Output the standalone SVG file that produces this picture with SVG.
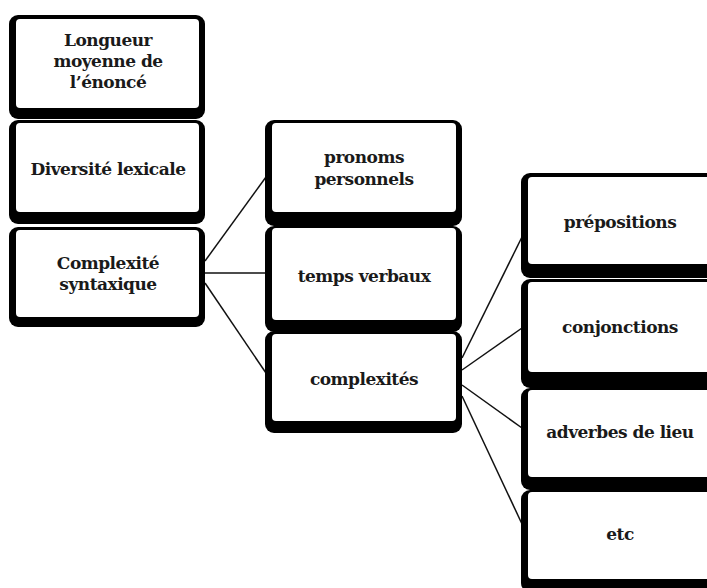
<svg xmlns="http://www.w3.org/2000/svg" width="707" height="588" viewBox="0 0 707 588">
  <style>
    .frame { fill: #000; }
    .face { fill: #fff; }
    .label { font-family: "DejaVu Serif", "Liberation Serif", serif; font-weight: bold; font-size: 17px; letter-spacing: -0.5px; fill: #1a1a1a; text-anchor: middle; }
    .link { stroke: #111; stroke-width: 1.5; fill: none; }
  </style>
  <rect width="707" height="588" fill="#fff"/>

  <!-- connectors -->
  <g id="connectors">
    <line class="link" x1="205" y1="261" x2="266" y2="177"/>
    <line class="link" x1="205" y1="273" x2="266" y2="273"/>
    <line class="link" x1="205" y1="283" x2="266" y2="373"/>
    <line class="link" x1="462" y1="358" x2="522" y2="237"/>
    <line class="link" x1="462" y1="370" x2="522" y2="328"/>
    <line class="link" x1="462" y1="385" x2="522" y2="428"/>
    <line class="link" x1="462" y1="396" x2="522" y2="524"/>
  </g>

  <!-- column 1 -->
  <g id="longueur">
    <rect class="frame" x="9" y="15" width="196" height="104" rx="9"/>
    <rect class="face" x="16" y="19" width="183" height="89" rx="4"/>
    <text class="label" x="108" y="46">Longueur</text>
    <text class="label" x="108" y="67">moyenne de</text>
    <text class="label" x="108" y="88">l’énoncé</text>
  </g>
  <g id="diversite">
    <rect class="frame" x="9" y="120" width="196" height="104" rx="9"/>
    <rect class="face" x="16" y="123" width="183" height="89" rx="4"/>
    <text class="label" x="108" y="175">Diversité lexicale</text>
  </g>
  <g id="complexite-syntaxique">
    <rect class="frame" x="9" y="227" width="196" height="100" rx="9"/>
    <rect class="face" x="16" y="230" width="183" height="87" rx="4"/>
    <text class="label" x="108" y="269">Complexité</text>
    <text class="label" x="108" y="290">syntaxique</text>
  </g>

  <!-- column 2 -->
  <g id="pronoms">
    <rect class="frame" x="265" y="120" width="197" height="106" rx="9"/>
    <rect class="face" x="272" y="123" width="184" height="89" rx="4"/>
    <text class="label" x="364" y="163">pronoms</text>
    <text class="label" x="364" y="185">personnels</text>
  </g>
  <g id="temps">
    <rect class="frame" x="265" y="226" width="197" height="106" rx="9"/>
    <rect class="face" x="272" y="228" width="184" height="92" rx="4"/>
    <text class="label" x="364" y="282">temps verbaux</text>
  </g>
  <g id="complexites">
    <rect class="frame" x="265" y="331" width="197" height="102" rx="9"/>
    <rect class="face" x="272" y="334" width="184" height="87" rx="4"/>
    <text class="label" x="364" y="385">complexités</text>
  </g>

  <!-- column 3 -->
  <g id="prepositions">
    <rect class="frame" x="521" y="173" width="200" height="105" rx="9"/>
    <rect class="face" x="528" y="177" width="200" height="87" rx="4"/>
    <text class="label" x="620" y="228">prépositions</text>
  </g>
  <g id="conjonctions">
    <rect class="frame" x="521" y="279" width="200" height="109" rx="9"/>
    <rect class="face" x="528" y="282" width="200" height="90" rx="4"/>
    <text class="label" x="620" y="333">conjonctions</text>
  </g>
  <g id="adverbes">
    <rect class="frame" x="521" y="388" width="200" height="102" rx="9"/>
    <rect class="face" x="528" y="390" width="200" height="87" rx="4"/>
    <text class="label" x="620" y="438">adverbes de lieu</text>
  </g>
  <g id="etc">
    <rect class="frame" x="521" y="490" width="200" height="102" rx="9"/>
    <rect class="face" x="528" y="492" width="200" height="87" rx="4"/>
    <text class="label" x="620" y="540">etc</text>
  </g>
</svg>
